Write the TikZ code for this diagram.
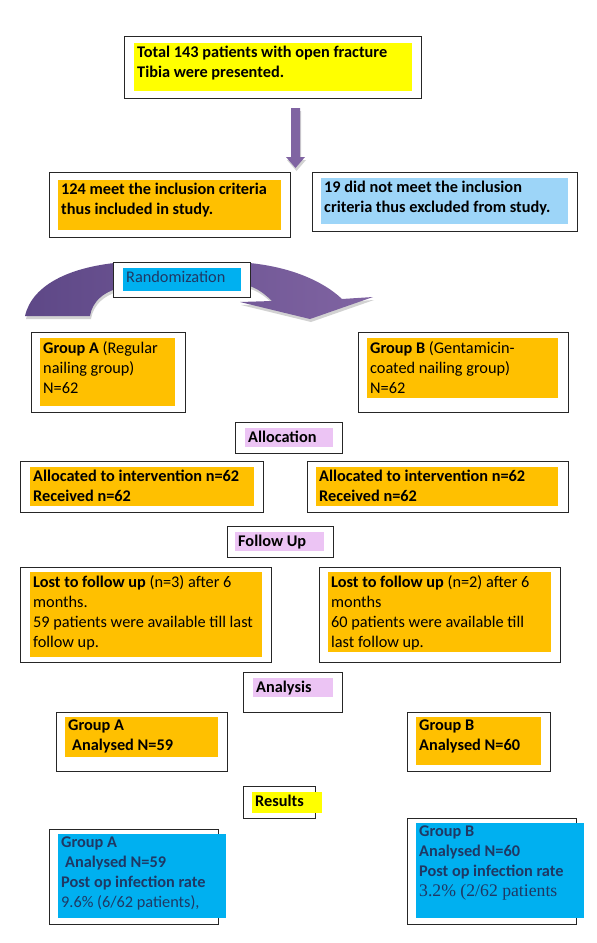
\documentclass[tikz,border=0pt]{standalone}
\usepackage{fontspec}
\setmainfont{Carlito}
\newfontfamily\tmsfont{Liberation Serif}
\definecolor{hlyellow}{RGB}{255,255,0}
\definecolor{hlorange}{RGB}{255,192,0}
\definecolor{hlsky}{RGB}{157,213,248}
\definecolor{hlcyan}{RGB}{0,176,240}
\definecolor{hlpink}{RGB}{236,196,244}
\definecolor{navy}{RGB}{31,56,100}
\definecolor{arrowpurple}{RGB}{128,100,162}
\definecolor{arrowdark}{RGB}{94,72,135}
\newcommand{\blk}[3]{\parbox[t][#2pt][t]{#1pt}{\raggedright #3}}
\begin{document}
\begin{tikzpicture}[x=1pt,y=-1pt,
  frm/.style 2 args={draw=black!85,line width=1pt,fill=white,inner sep=0pt,anchor=north west,
    minimum width=#1pt,minimum height=#2pt},
  hl/.style={inner sep=3pt,anchor=north west,font=\fontsize{16.3}{20}\selectfont},
  glow/.style={preaction={fill=gray!35,transform canvas={shift={(1pt,-3pt)}}}}]
  \useasboundingbox (0,0) rectangle (597,943);
  % block arrow and curved arrow
  \fill[glow,arrowpurple] (291,108) -- (300,108) -- (300,157) -- (305,157) -- (295.5,168)
    -- (286,157) -- (291,157) -- cycle;
  \shade[glow,left color=arrowdark,right color=arrowpurple]
    (25,316) .. controls (32,285) and (70,266) .. (125,262) -- (235,262)
    .. controls (285,264) and (322,280) .. (342,299) -- (373,297) -- (310,319)
    -- (240,302) -- (272,301) .. controls (262,291) and (252,285) .. (240,284)
    -- (125,287) .. controls (104,290) and (92,302) .. (90,316) -- cycle;
  % frames
  \node[frm={297}{62}] (total) at (124,36) {};
  \node[frm={241}{65}] (incl) at (49,172) {};
  \node[frm={265}{59}] (excl) at (312,172) {};
  \node[frm={137}{35}] (rand) at (113,262) {};
  \node[frm={154}{80}] (grpA) at (31,332) {};
  \node[frm={210}{80}] (grpB) at (358,332) {};
  \node[frm={107}{31}] (alloc) at (235,422) {};
  \node[frm={243}{51}] (allocA) at (20,461) {};
  \node[frm={261}{51}] (allocB) at (307,461) {};
  \node[frm={106}{31}] (follow) at (227,526) {};
  \node[frm={251}{95}] (lostA) at (20,567) {};
  \node[frm={241}{95}] (lostB) at (319,567) {};
  \node[frm={99}{40}] (anls) at (243,672) {};
  \node[frm={171}{59}] (anA) at (56,712) {};
  \node[frm={143}{59}] (anB) at (407,712) {};
  \node[frm={72}{32}] (res) at (243,786) {};
  \node[frm={169}{95}] (resA) at (49,829) {};
  \node[frm={169}{106}] (resB) at (407,818) {};
  % highlighted texts
  \node[hl,fill=hlyellow] (totalT) at ([shift={(10,7)}]total.north west)
    {\blk{272}{42}{\textbf{Total 143 patients with open fracture\\Tibia were presented.}}};
  \node[hl,fill=hlorange] (inclT) at ([shift={(9,8)}]incl.north west)
    {\blk{217}{44}{\textbf{124 meet the inclusion criteria\\thus included in study.}}};
  \node[hl,fill=hlsky] (exclT) at ([shift={(9,6)}]excl.north west)
    {\blk{241}{40}{\textbf{19 did not meet the inclusion\\criteria thus excluded from study.}}};
  \node[hl,fill=hlcyan,text=navy] (randT) at ([shift={(10,6)}]rand.north west)
    {\blk{112}{17}{Randomization}};
  \node[hl,fill=hlorange] (grpAT) at ([shift={(9,6)}]grpA.north west)
    {\blk{129}{62}{\textbf{Group A} (Regular\\nailing group)\\N=62}};
  \node[hl,fill=hlorange] (grpBT) at ([shift={(9,6)}]grpB.north west)
    {\blk{185}{54}{\textbf{Group B} (Gentamicin-\\coated nailing group)\\N=62}};
  \node[hl,fill=hlpink] (allocT) at ([shift={(10,6)}]alloc.north west)
    {\blk{82}{13}{\textbf{Allocation}}};
  \node[hl,fill=hlorange] (allocAT) at ([shift={(10,6)}]allocA.north west)
    {\blk{218}{33}{\textbf{Allocated to intervention n=62\\Received n=62}}};
  \node[hl,fill=hlorange] (allocBT) at ([shift={(9,6)}]allocB.north west)
    {\blk{236}{33}{\textbf{Allocated to intervention n=62\\Received n=62}}};
  \node[hl,fill=hlpink] (followT) at ([shift={(8,6)}]follow.north west)
    {\blk{83}{13}{\textbf{Follow Up}}};
  \node[hl,fill=hlorange] (lostAT) at ([shift={(10,5)}]lostA.north west)
    {\blk{226}{79}{\textbf{Lost to follow up} (n=3) after 6\\months.\\59 patients were available till last\\follow up.}};
  \node[hl,fill=hlorange] (lostBT) at ([shift={(9,5)}]lostB.north west)
    {\blk{217}{74}{\textbf{Lost to follow up} (n=2) after 6\\months\\60 patients were available till\\last follow up.}};
  \node[hl,fill=hlpink] (anlsT) at ([shift={(10,6)}]anls.north west)
    {\blk{74}{13}{\textbf{Analysis}}};
  \node[hl,fill=hlorange] (anAT) at ([shift={(9,5)}]anA.north west)
    {\blk{147}{34}{\textbf{Group A\\\hspace*{4pt}Analysed N=59}}};
  \node[hl,fill=hlorange] (anBT) at ([shift={(9,5)}]anB.north west)
    {\blk{119}{42}{\textbf{Group B\\Analysed N=60}}};
  \node[hl,fill=hlyellow] (resT) at ([shift={(9,6)}]res.north west)
    {\blk{64}{15}{\textbf{Results}}};
  \node[hl,fill=hlcyan,text=navy] (resAT) at ([shift={(9,5)}]resA.north west)
    {\blk{162}{78}{\textbf{Group A\\\hspace*{4pt}Analysed N=59\\Post op infection rate}\\9.6\% (6/62 patients),}};
  \node[hl,fill=hlcyan,text=navy] (resBT) at ([shift={(9,5)}]resB.north west)
    {\blk{162}{89}{\textbf{Group B\\Analysed N=60\\Post op infection rate}\\{\tmsfont\fontsize{17.7}{20}\selectfont 3.2\% (2/62 patients}}};
\end{tikzpicture}
\end{document}
